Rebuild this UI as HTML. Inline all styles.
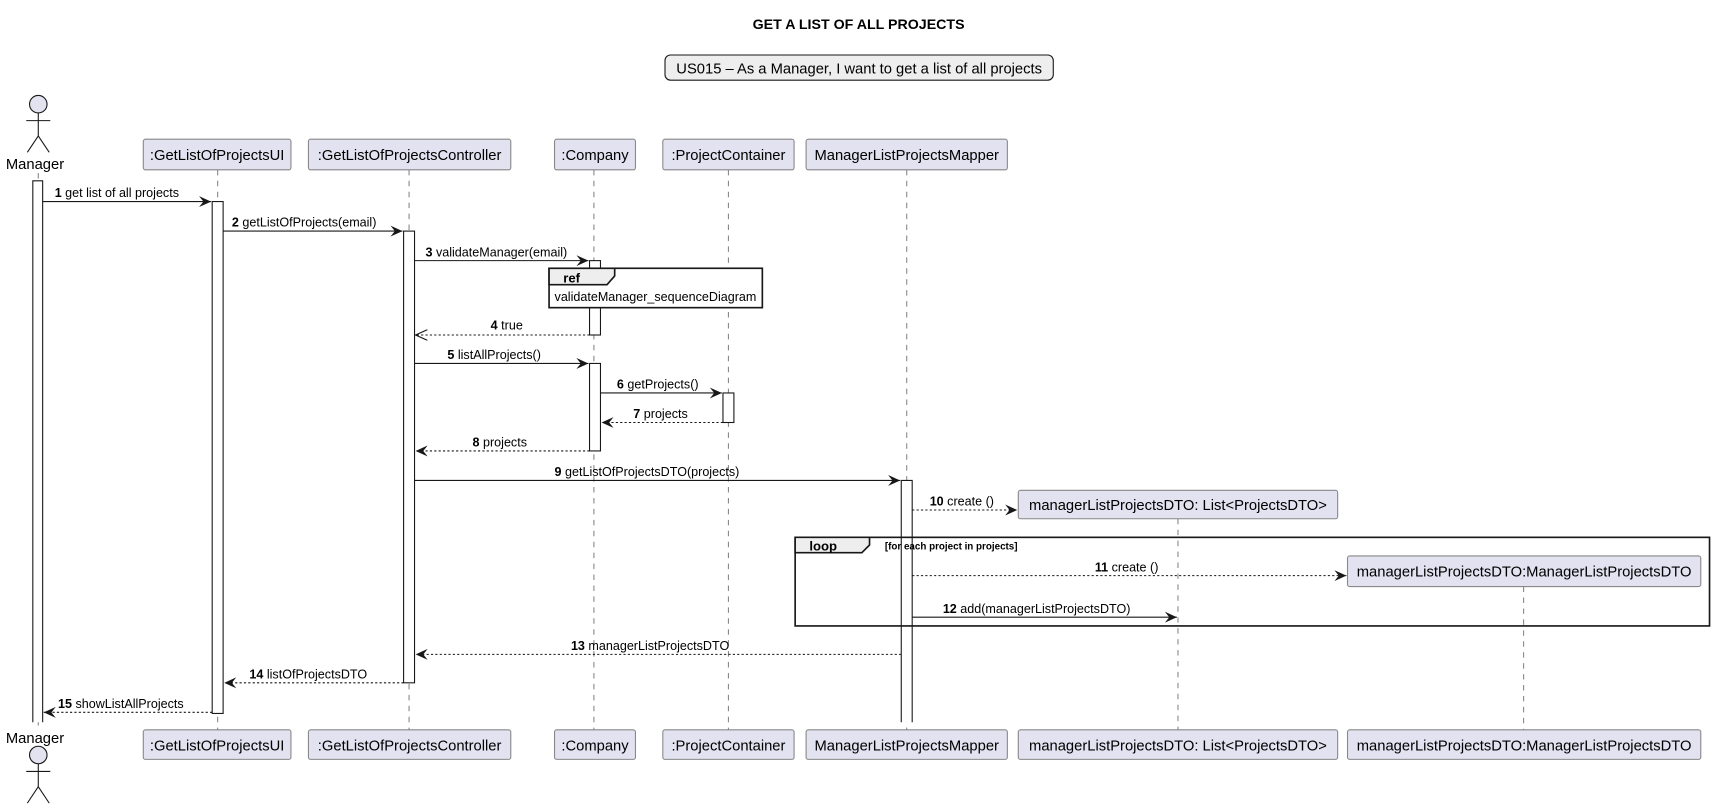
<!DOCTYPE html>
<html><head><meta charset="utf-8"><style>
html,body{margin:0;padding:0;background:#fff;width:1715px;height:810px;overflow:hidden}
svg{display:block}
text{font-family:"Liberation Sans","DejaVu Sans",sans-serif;fill:#000}
.m{font-size:11.5px}
.p{font-size:13.5px}
.b{fill:#E2E2F0;stroke:#888;stroke-width:1}
.ll{stroke:#888;stroke-width:1;stroke-dasharray:5,5}
.act{fill:#fff;stroke:#181818;stroke-width:1}
.s{stroke:#181818;stroke-width:1;fill:none}
.d{stroke:#181818;stroke-width:1;fill:none;stroke-dasharray:2,2}
</style></head><body>
<svg width="1715" height="810" viewBox="0 0 1568 740" xmlns="http://www.w3.org/2000/svg">
<defs>
<marker id="a" markerWidth="12" markerHeight="10" refX="11" refY="5" orient="auto" markerUnits="userSpaceOnUse"><path d="M0,0 L11,5 L0,10 L4,5 Z" fill="#181818"/></marker>
<marker id="o" markerWidth="12" markerHeight="10" refX="11" refY="5" orient="auto" markerUnits="userSpaceOnUse"><path d="M0,0 L11,5 L0,10" fill="none" stroke="#181818"/></marker>
</defs>
<text x="785" y="26" text-anchor="middle" style="font-size:13px;font-weight:bold">GET A LIST OF ALL PROJECTS</text>
<rect x="608" y="50" width="355" height="23" rx="5" fill="#EEEEEE" stroke="#181818"/>
<text x="785.5" y="67" text-anchor="middle" class="p">US015 – As a Manager, I want to get a list of all projects</text>

<line class="ll" x1="35" y1="158" x2="35" y2="665"/>
<line class="ll" x1="199" y1="155" x2="199" y2="667"/>
<line class="ll" x1="374" y1="155" x2="374" y2="667"/>
<line class="ll" x1="543" y1="155" x2="543" y2="667"/>
<line class="ll" x1="666" y1="155" x2="666" y2="667"/>
<line class="ll" x1="829" y1="155" x2="829" y2="667"/>
<line class="ll" x1="1077" y1="474" x2="1077" y2="667"/>
<line class="ll" x1="1393" y1="536" x2="1393" y2="667"/>

<g class="s">
<circle cx="35" cy="95" r="8" fill="#E2E2F0" stroke="#181818"/>
<line x1="35" y1="103" x2="35" y2="124"/><line x1="24" y1="110" x2="46" y2="110"/>
<line x1="35" y1="124" x2="25" y2="139"/><line x1="35" y1="124" x2="45" y2="139"/>
<circle cx="35" cy="690" r="8" fill="#E2E2F0" stroke="#181818"/>
<line x1="35" y1="698" x2="35" y2="719"/><line x1="24" y1="705" x2="46" y2="705"/>
<line x1="35" y1="719" x2="25" y2="734"/><line x1="35" y1="719" x2="45" y2="734"/>
</g>
<text x="32" y="154" text-anchor="middle" class="p">Manager</text>
<text x="32" y="679" text-anchor="middle" class="p">Manager</text>

<rect class="b" x="131" y="127" width="135" height="28" rx="2"/><text x="198.5" y="146" text-anchor="middle" class="p">:GetListOfProjectsUI</text>
<rect class="b" x="282" y="127" width="185" height="28" rx="2"/><text x="374.5" y="146" text-anchor="middle" class="p">:GetListOfProjectsController</text>
<rect class="b" x="507" y="127" width="74" height="28" rx="2"/><text x="544" y="146" text-anchor="middle" class="p">:Company</text>
<rect class="b" x="606" y="127" width="120" height="28" rx="2"/><text x="666" y="146" text-anchor="middle" class="p">:ProjectContainer</text>
<rect class="b" x="737" y="127" width="184" height="28" rx="2"/><text x="829" y="146" text-anchor="middle" class="p">ManagerListProjectsMapper</text>
<rect class="b" x="931" y="448" width="292" height="26" rx="2"/><text x="1077" y="466" text-anchor="middle" class="p">managerListProjectsDTO: List&lt;ProjectsDTO&gt;</text>
<rect class="b" x="1232" y="508" width="323" height="28" rx="2"/><text x="1393.5" y="527" text-anchor="middle" class="p">managerListProjectsDTO:ManagerListProjectsDTO</text>
<rect class="b" x="131" y="667" width="135" height="27" rx="2"/><text x="198.5" y="686" text-anchor="middle" class="p">:GetListOfProjectsUI</text>
<rect class="b" x="282" y="667" width="185" height="27" rx="2"/><text x="374.5" y="686" text-anchor="middle" class="p">:GetListOfProjectsController</text>
<rect class="b" x="507" y="667" width="74" height="27" rx="2"/><text x="544" y="686" text-anchor="middle" class="p">:Company</text>
<rect class="b" x="606" y="667" width="120" height="27" rx="2"/><text x="666" y="686" text-anchor="middle" class="p">:ProjectContainer</text>
<rect class="b" x="737" y="667" width="184" height="27" rx="2"/><text x="829" y="686" text-anchor="middle" class="p">ManagerListProjectsMapper</text>
<rect class="b" x="931" y="667" width="292" height="27" rx="2"/><text x="1077" y="686" text-anchor="middle" class="p">managerListProjectsDTO: List&lt;ProjectsDTO&gt;</text>
<rect class="b" x="1232" y="667" width="323" height="27" rx="2"/><text x="1393.5" y="686" text-anchor="middle" class="p">managerListProjectsDTO:ManagerListProjectsDTO</text>

<path class="act" d="M30,660 L30,165 L39,165 L39,660"/>
<rect class="act" x="194" y="184" width="10" height="468"/>
<rect class="act" x="369" y="211" width="10" height="413"/>
<rect class="act" x="539" y="238" width="10" height="68"/>
<rect class="act" x="539" y="332" width="10" height="80"/>
<rect class="act" x="661" y="359" width="10" height="27"/>
<path class="act" d="M824,660 L824,439 L834,439 L834,660"/>

<rect x="502" y="245" width="195" height="36" fill="#fff" stroke="#181818" stroke-width="1.5"/>
<path d="M502,245 L562,245 L562,252 L555,260 L502,260 Z" fill="#EEEEEE" stroke="#181818" stroke-width="1.5"/>
<text x="515" y="258" style="font-size:12px;font-weight:bold">ref</text>
<text x="507" y="275" class="m">validateManager_sequenceDiagram</text>

<rect x="727" y="491" width="836" height="81" fill="none" stroke="#181818" stroke-width="1.5"/>
<path d="M727,491 L795,491 L795,498 L788,505 L727,505 Z" fill="#EEEEEE" stroke="#181818" stroke-width="1.5"/>
<text x="740" y="503" style="font-size:12px;font-weight:bold">loop</text>
<text x="809" y="502" style="font-size:9px;font-weight:bold">[for each project in projects]</text>

<line class="s" x1="39" y1="184" x2="193" y2="184" marker-end="url(#a)"/>
<text x="50" y="180" class="m"><tspan font-weight="bold">1</tspan> get list of all projects</text>
<line class="s" x1="204" y1="211" x2="368" y2="211" marker-end="url(#a)"/>
<text x="212" y="207" class="m"><tspan font-weight="bold">2</tspan> getListOfProjects(email)</text>
<line class="s" x1="379" y1="238" x2="538" y2="238" marker-end="url(#a)"/>
<text x="389" y="234" class="m"><tspan font-weight="bold">3</tspan> validateManager(email)</text>
<line class="d" x1="539" y1="306" x2="380" y2="306" marker-end="url(#o)"/>
<text x="478" y="301" text-anchor="end" class="m"><tspan font-weight="bold">4</tspan> true</text>
<line class="s" x1="379" y1="332" x2="538" y2="332" marker-end="url(#a)"/>
<text x="409" y="328" class="m"><tspan font-weight="bold">5</tspan> listAllProjects()</text>
<line class="s" x1="549" y1="359" x2="660" y2="359" marker-end="url(#a)"/>
<text x="564" y="355" class="m"><tspan font-weight="bold">6</tspan> getProjects()</text>
<line class="d" x1="661" y1="386" x2="550" y2="386" marker-end="url(#a)"/>
<text x="579" y="382" class="m"><tspan font-weight="bold">7</tspan> projects</text>
<line class="d" x1="539" y1="412" x2="380" y2="412" marker-end="url(#a)"/>
<text x="432" y="408" class="m"><tspan font-weight="bold">8</tspan> projects</text>
<line class="s" x1="379" y1="439" x2="823" y2="439" marker-end="url(#a)"/>
<text x="507" y="435" class="m"><tspan font-weight="bold">9</tspan> getListOfProjectsDTO(projects)</text>
<line class="d" x1="834" y1="466" x2="930" y2="466" marker-end="url(#a)"/>
<text x="850" y="462" class="m"><tspan font-weight="bold">10</tspan> create ()</text>
<line class="d" x1="834" y1="526" x2="1231" y2="526" marker-end="url(#a)"/>
<text x="1001" y="522" class="m"><tspan font-weight="bold">11</tspan> create ()</text>
<line class="s" x1="834" y1="564" x2="1076" y2="564" marker-end="url(#a)"/>
<text x="862" y="560" class="m"><tspan font-weight="bold">12</tspan> add(managerListProjectsDTO)</text>
<line class="d" x1="824" y1="598" x2="380" y2="598" marker-end="url(#a)"/>
<text x="522" y="594" class="m"><tspan font-weight="bold">13</tspan> managerListProjectsDTO</text>
<line class="d" x1="369" y1="624" x2="205" y2="624" marker-end="url(#a)"/>
<text x="228" y="620" class="m"><tspan font-weight="bold">14</tspan> listOfProjectsDTO</text>
<line class="d" x1="194" y1="651" x2="40" y2="651" marker-end="url(#a)"/>
<text x="53" y="647" class="m"><tspan font-weight="bold">15</tspan> showListAllProjects</text>
</svg>
</body></html>
